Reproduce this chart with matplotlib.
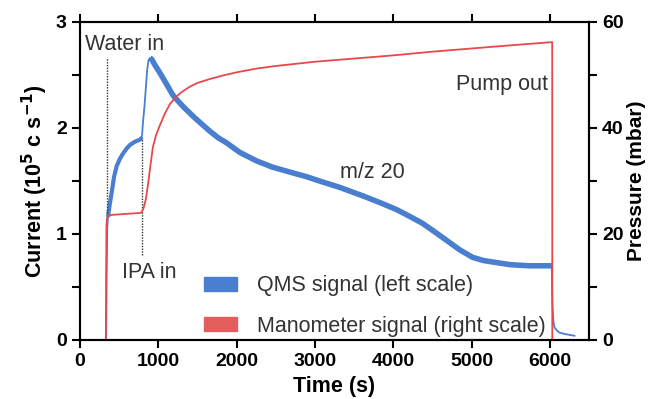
import matplotlib.pyplot as plt
from matplotlib.patches import Patch

plt.rcParams['font.family'] = ['Liberation Sans', 'DejaVu Sans']

# QMS signal, m/z 20 (left scale, 10^5 c/s)
qms_t = [0, 334, 340, 348, 357, 380, 404, 435, 468, 510, 550, 600, 638, 700, 765, 790,
         804, 825, 842, 858, 875, 893, 914, 960, 1020, 1100, 1186, 1233, 1320, 1445,
         1550, 1658, 1760, 1871, 2040, 2253, 2460, 2700, 2895, 3100, 3316, 3610, 3850,
         4043, 4200, 4375, 4530, 4681, 4850, 5013, 5150, 5319, 5500, 5740, 6025, 6032,
         6045, 6058, 6090, 6122, 6200, 6314]
qms_i = [0, 0, 0.6, 1.05, 1.16, 1.28, 1.39, 1.54, 1.64, 1.71, 1.76, 1.81, 1.84, 1.87,
         1.89, 1.91, 2.05, 2.22, 2.39, 2.55, 2.64, 2.66, 2.65, 2.59, 2.52, 2.42, 2.31,
         2.27, 2.2, 2.11, 2.04, 1.97, 1.91, 1.86, 1.77, 1.69, 1.63, 1.58, 1.54, 1.49,
         1.44, 1.36, 1.29, 1.23, 1.17, 1.10, 1.02, 0.94, 0.85, 0.78, 0.75, 0.73, 0.71,
         0.70, 0.70, 0.35, 0.18, 0.12, 0.09, 0.07, 0.055, 0.04]

# Manometer signal (right scale, mbar)
man_t = [0, 330, 334, 338, 345, 360, 400, 500, 600, 700, 780, 810, 840, 870, 900, 931,
         970, 1020, 1080, 1148, 1220, 1300, 1403, 1500, 1650, 1824, 2000, 2250, 2500,
         2750, 3000, 3250, 3500, 3750, 4000, 4500, 5000, 5500, 6030, 6031]
man_p = [0, 0, 12, 21.5, 23.0, 23.4, 23.6, 23.7, 23.8, 23.9, 24.0, 24.8, 26.5, 29.5,
         33, 36.4, 38.6, 40.5, 42.6, 44.5, 45.8, 46.8, 47.8, 48.5, 49.2, 49.9, 50.5,
         51.2, 51.7, 52.1, 52.5, 52.8, 53.1, 53.4, 53.7, 54.4, 55.0, 55.6, 56.2, 0]

water_in = 340
ipa_in = 787

blue = '#4a7fcf'
red = '#e8484b'
tc = '#333333'

fig = plt.figure(figsize=(6.52, 3.99), dpi=100)
ax = fig.add_axes([0.1227, 0.1479, 0.7807, 0.797])
ax2 = ax.twinx()

# thin where the signal jumps, thick (noise band) elsewhere
n1 = qms_t.index(357)
n2 = qms_t.index(790)
n3 = qms_t.index(893)
n4 = qms_t.index(6025)
ax.plot(qms_t, qms_i, color=blue, lw=1.3)
ax.plot(qms_t[n1:n2 + 1], qms_i[n1:n2 + 1], color=blue, lw=3, solid_capstyle='butt')
ax.plot(qms_t[n3:n4 + 1], qms_i[n3:n4 + 1], color=blue, lw=4, solid_capstyle='butt')

ax2.plot(man_t, man_p, color=red, lw=1.3)

ax.plot([water_in, water_in], [1.2, 2.66], ls=(0, (1, 1)), color='#333333', lw=1)
ax.plot([ipa_in, ipa_in], [0.8, 1.91], ls=(0, (1, 1)), color='#333333', lw=1)

ax.text(64, 2.74, 'Water in', fontsize=15.5, color=tc)
ax.text(536, 0.585, 'IPA in', fontsize=15.5, color=tc)
ax.text(5970, 2.36, 'Pump out', fontsize=15.5, color=tc, ha='right')
ax.text(3316, 1.53, 'm/z 20', fontsize=15.5, color=tc)

ax.set_xlim(0, 6500)
ax.set_ylim(0, 3)
ax2.set_ylim(0, 60)
ax.set_xticks(range(0, 7000, 1000))
ax.set_yticks([0, 1, 2, 3])
ax.set_yticks([0.5, 1.5, 2.5], minor=True)
ax2.set_yticks([0, 20, 40, 60])
ax2.set_yticks([10, 30, 50], minor=True)

for a in (ax, ax2):
    for s in a.spines.values():
        s.set_linewidth(1.5)
    a.tick_params(which='both', direction='out', width=1.5, labelsize=14)
    a.tick_params(which='major', length=6)
    a.tick_params(which='minor', length=6)
    for lab in a.get_xticklabels() + a.get_yticklabels():
        lab.set_fontweight('bold')
ax.tick_params(axis='x', top=True)

ax.set_xlabel('Time (s)', fontsize=15.5, fontweight='bold')
ax.set_ylabel(r'Current (10$^{\mathbf{5}}$ c s$^{\mathbf{-1}}$)', fontsize=15.5,
              fontweight='bold')
ax2.set_ylabel('Pressure (mbar)', fontsize=15, fontweight='bold', labelpad=2)

handles = [Patch(color=blue, label='QMS signal (left scale)'),
           Patch(color='#e35d5d', label='Manometer signal (right scale)')]
ax2.legend(handles=handles, loc='center left', bbox_to_anchor=(0.222, 0.107),
           frameon=False, fontsize=15.5, handlelength=1.55, handleheight=0.6,
           handletextpad=0.9, labelspacing=0.9, borderpad=0, labelcolor=tc)

fig.savefig('out.png', dpi=100)
